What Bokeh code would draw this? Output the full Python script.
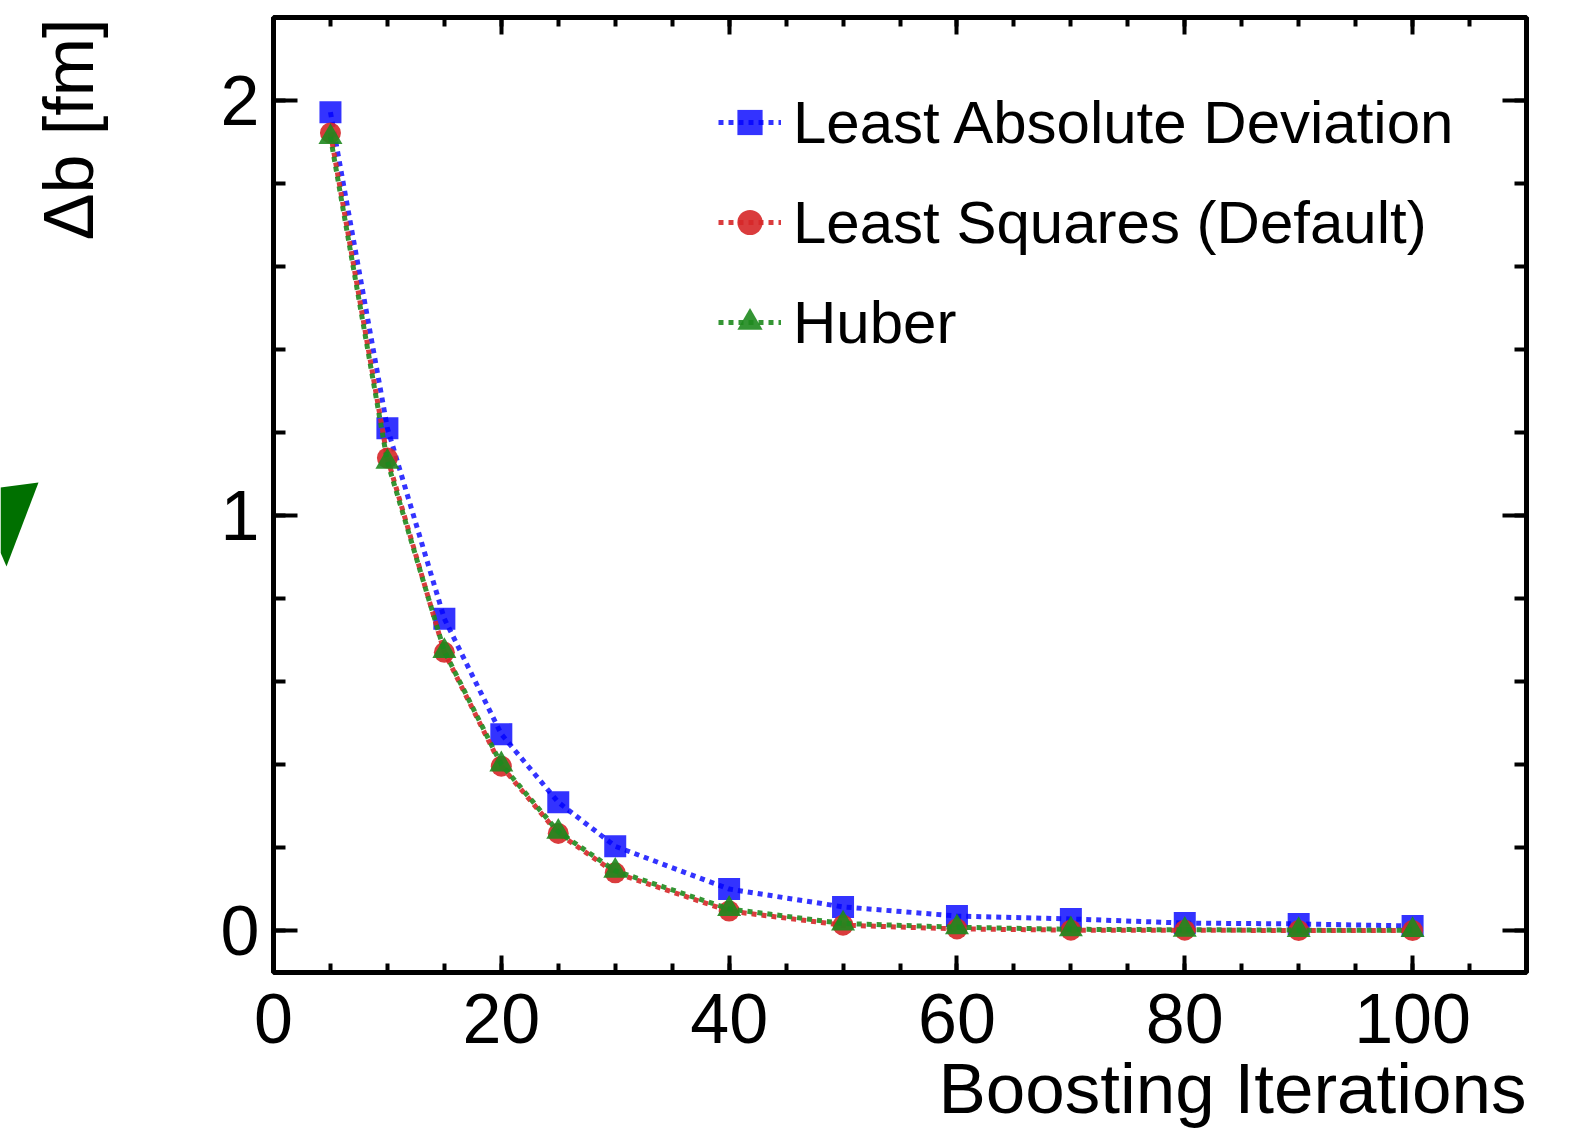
import math
from bokeh.plotting import figure
from bokeh.layouts import row
from bokeh.models import (Range1d, LinearAxis, SingleIntervalTicker, Legend, LegendItem, Title)
from bokeh.core.properties import value
from bokeh.embed import file_html
from bokeh.resources import INLINE

# ---- data ----
iterations = [5, 10, 15, 20, 25, 30, 40, 50, 60, 70, 80, 90, 100]
lad = [1.972, 1.211, 0.752, 0.474, 0.310, 0.204, 0.101, 0.058, 0.036, 0.029, 0.019, 0.017, 0.012]
least_squares = [1.922, 1.139, 0.671, 0.397, 0.235, 0.140, 0.048, 0.014, 0.005, 0.002, 0.002, 0.001, 0.001]
huber = [1.912, 1.130, 0.674, 0.401, 0.239, 0.145, 0.053, 0.018, 0.009, 0.004, 0.003, 0.002, 0.002]
series_names = ["Least Absolute Deviation", "Least Squares (Default)", "Huber"]
x_label = "Boosting Iterations"
y_label = "\u0394b [fm]"

# stray green wedge cut off at the picture's left edge (pixel outline)
wedge_x = [0, 38, 6, 0]
wedge_y = [487, 482, 566, 552]

FONT = "Liberation Sans"
H = 1130
STRIP_W = 130
FRAME_TOP = 17
FRAME_BOTTOM = 972

# ---- left strip: y-axis title and the stray wedge (pixel coordinates) ----
strip = figure(width=STRIP_W, height=H, output_backend="svg", toolbar_location=None,
               x_range=Range1d(0, STRIP_W), y_range=Range1d(FRAME_BOTTOM, FRAME_TOP),
               x_axis_location=None, y_axis_location=None,
               min_border_left=0, min_border_right=0,
               min_border_top=FRAME_TOP, min_border_bottom=H - FRAME_BOTTOM)
strip.xgrid.visible = False
strip.ygrid.visible = False
strip.outline_line_color = None
strip.patch(wedge_x, wedge_y, fill_color="#007000", line_color=None)
strip.text(x=[68], y=[18], text=[y_label], angle=math.pi / 2,
           text_align="right", text_baseline="alphabetic",
           text_font=value(FONT), text_font_size="70px", text_color="black")

# ---- main chart ----
p = figure(width=1573 - STRIP_W, height=H, output_backend="svg", toolbar_location=None,
           x_range=Range1d(0, 110), y_range=Range1d(-0.1, 2.2),
           x_axis_location=None, y_axis_location=None,
           min_border_left=273 - STRIP_W, min_border_right=47,
           min_border_top=FRAME_TOP, min_border_bottom=H - FRAME_BOTTOM)
p.xgrid.visible = False
p.ygrid.visible = False
p.outline_line_color = "black"
p.outline_line_width = 5
p.background_fill_color = "white"
p.border_fill_color = "white"


def style_axis(ax, show_labels, major_in, minor_in):
    ax.axis_line_color = None
    ax.major_tick_line_width = 4
    ax.minor_tick_line_width = 4
    ax.major_tick_in = major_in
    ax.major_tick_out = 0
    ax.minor_tick_in = minor_in
    ax.minor_tick_out = 0
    ax.major_label_text_font = FONT
    ax.major_label_text_color = "black"
    ax.major_label_text_font_size = "70px" if show_labels else "0px"


xt = SingleIntervalTicker(interval=20, num_minor_ticks=4)
yt = SingleIntervalTicker(interval=1, num_minor_ticks=5)

xb = LinearAxis(ticker=xt)
style_axis(xb, True, 17, 9)
xb.major_label_standoff = 21
p.add_layout(xb, "below")
xa = LinearAxis(ticker=xt)
style_axis(xa, False, 17, 9)
p.add_layout(xa, "above")

yl = LinearAxis(ticker=yt)
style_axis(yl, True, 24, 12)
yl.major_label_standoff = 14
p.add_layout(yl, "left")
yr = LinearAxis(ticker=yt)
style_axis(yr, False, 24, 12)
p.add_layout(yr, "right")

p.add_layout(Title(text=x_label, align="right", text_font=FONT, text_font_size="71px",
                   text_font_style="normal", text_color="black", standoff=2), "below")

colors = ["#0000ff", "#d62728", "#1e8a1e"]
alphas = [0.8, 0.9, 0.9]
markers = ["square", "circle", "triangle"]
sizes = [22, 21, 24]
items = []
for ys, name, c, a, m, s in zip([lad, least_squares, huber], series_names, colors, alphas, markers, sizes):
    r1 = p.scatter(iterations, ys, marker=m, size=s, fill_color=c, fill_alpha=a, line_color=None)
    r2 = p.line(iterations, ys, line_color=c, line_alpha=a, line_width=5, line_dash="5 5")
    items.append(LegendItem(label=name, renderers=[r2, r1]))

legend = Legend(items=items, location=(445, 615))
legend.label_text_font = FONT
legend.label_text_font_size = "60px"
legend.label_text_color = "black"
legend.glyph_width = 63
legend.glyph_height = 70
legend.label_height = 70
legend.label_standoff = 12
legend.spacing = 30
legend.padding = 0
legend.margin = 0
legend.border_line_color = None
legend.background_fill_alpha = 0
p.add_layout(legend, "center")

layout = row(strip, p, spacing=0)
open("out.html", "w").write(file_html(layout, INLINE))
